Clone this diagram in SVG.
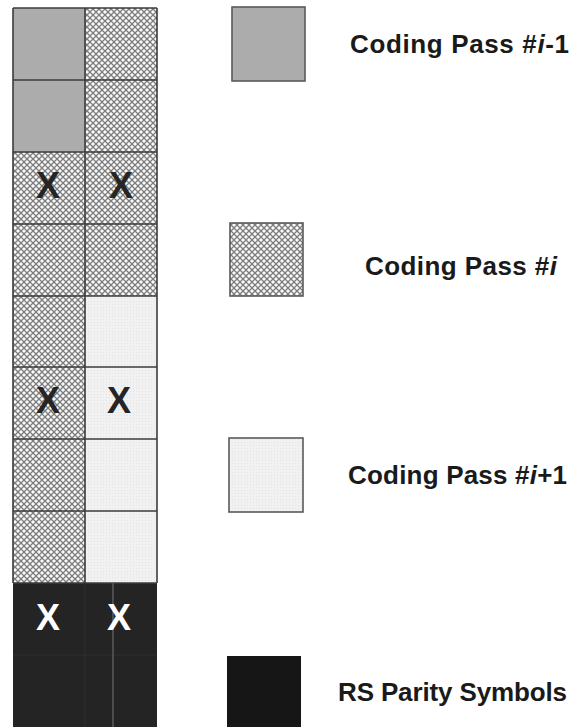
<svg xmlns="http://www.w3.org/2000/svg" width="579" height="727" viewBox="0 0 579 727">
  <defs>
    <!-- diagonal cross-hatch used for coding pass #i -->
    <pattern id="hatch" width="6" height="6" patternUnits="userSpaceOnUse">
      <rect width="6" height="6" fill="#fafafa"/>
      <path d="M-1,-1 L7,7 M7,-1 L-1,7" stroke="#7c7c7c" stroke-width="1.3" fill="none"/>
    </pattern>
    <!-- faint dotted texture for the light cells -->
    <pattern id="dots" width="3" height="3" patternUnits="userSpaceOnUse">
      <rect width="3" height="3" fill="#f1f1f1"/>
      <rect x="1" y="1" width="1" height="1" fill="#e3e3e3"/>
    </pattern>
  </defs>
  <style>
    .prev  { fill: #acacac; }
    .cur   { fill: url(#hatch); }
    .next  { fill: url(#dots); }
    .par   { fill: #242424; }
    .grid  { stroke: #3c3c3c; stroke-width: 1.6; fill: none; }
    .mark  { font-family: "Liberation Sans", Arial, sans-serif; font-weight: bold; font-size: 36px; text-anchor: middle; }
    .dark  { fill: #252525; }
    .light { fill: #ffffff; }
    .lbl   { font-family: "Liberation Sans", Arial, sans-serif; font-weight: bold; font-size: 26px; fill: #1a1a1a; }
    .key   { stroke: #5a5a5a; stroke-width: 1.6; }
  </style>

  <rect width="579" height="727" fill="#ffffff"/>

  <!-- symbol grid: 10 rows x 2 columns -->
  <g id="grid-cells">
    <g id="cell-r1-c1"><rect class="prev" x="13" y="8" width="72" height="72"/></g>
    <g id="cell-r1-c2"><rect class="cur" x="85" y="8" width="72" height="72"/></g>
    <g id="cell-r2-c1"><rect class="prev" x="13" y="80" width="72" height="72"/></g>
    <g id="cell-r2-c2"><rect class="cur" x="85" y="80" width="72" height="72"/></g>
    <g id="cell-r3-c1"><rect class="cur" x="13" y="152" width="72" height="72"/></g>
    <g id="cell-r3-c2"><rect class="cur" x="85" y="152" width="72" height="72"/></g>
    <g id="cell-r4-c1"><rect class="cur" x="13" y="224" width="72" height="72"/></g>
    <g id="cell-r4-c2"><rect class="cur" x="85" y="224" width="72" height="72"/></g>
    <g id="cell-r5-c1"><rect class="cur" x="13" y="296" width="72" height="71"/></g>
    <g id="cell-r5-c2"><rect class="next" x="85" y="296" width="72" height="71"/></g>
    <g id="cell-r6-c1"><rect class="cur" x="13" y="367" width="72" height="72"/></g>
    <g id="cell-r6-c2"><rect class="next" x="85" y="367" width="72" height="72"/></g>
    <g id="cell-r7-c1"><rect class="cur" x="13" y="439" width="72" height="72"/></g>
    <g id="cell-r7-c2"><rect class="next" x="85" y="439" width="72" height="72"/></g>
    <g id="cell-r8-c1"><rect class="cur" x="13" y="511" width="72" height="72"/></g>
    <g id="cell-r8-c2"><rect class="next" x="85" y="511" width="72" height="72"/></g>
    <g id="cell-r9-c1"><rect class="par" x="13" y="583" width="72" height="72"/></g>
    <g id="cell-r9-c2"><rect class="par" x="85" y="583" width="72" height="72"/></g>
    <g id="cell-r10-c1"><rect class="par" x="13" y="655" width="72" height="72"/></g>
    <g id="cell-r10-c2"><rect class="par" x="85" y="655" width="72" height="72"/></g>
  </g>

  <!-- cell borders -->
  <g id="grid-lines">
    <path class="grid" d="M13,8 H157 M13,80 H157 M13,152 H157 M13,224 H157 M13,296 H157 M13,367 H157 M13,439 H157 M13,511 H157 M13,583 H157"/>
    <path class="grid" d="M13,8 V583 M85,8 V583 M157,8 V583"/>
    <path d="M85,583 V727 M13,655 H157" stroke="#2e2e2e" stroke-width="1.2"/>
    <path d="M113,583 V727" stroke="#5a5a5a" stroke-width="1.5"/>
  </g>

  <!-- erased symbols -->
  <g id="marks">
    <text class="mark dark" x="48" y="198">X</text>
    <text class="mark dark" x="121" y="198">X</text>
    <text class="mark dark" x="48" y="413">X</text>
    <text class="mark dark" x="119" y="413">X</text>
    <text class="mark light" x="48" y="630">X</text>
    <text class="mark light" x="119" y="630">X</text>
  </g>

  <!-- legend -->
  <g id="legend-prev">
    <rect class="prev key" x="232" y="7" width="73" height="74"/>
    <text class="lbl" x="350" y="53" textLength="219" lengthAdjust="spacing">Coding Pass #<tspan font-style="italic">i</tspan>-1</text>
  </g>
  <g id="legend-cur">
    <rect class="cur key" x="230" y="223" width="73" height="73"/>
    <text class="lbl" x="365" y="275" textLength="192" lengthAdjust="spacing">Coding Pass #<tspan font-style="italic">i</tspan></text>
  </g>
  <g id="legend-next">
    <rect class="next key" x="229" y="438" width="74" height="74"/>
    <text class="lbl" x="348" y="484" textLength="219" lengthAdjust="spacing">Coding Pass #<tspan font-style="italic">i</tspan>+1</text>
  </g>
  <g id="legend-parity">
    <rect x="227" y="656" width="74" height="71" fill="#161616"/>
    <text class="lbl" x="338" y="701" textLength="229" lengthAdjust="spacing">RS Parity Symbols</text>
  </g>
</svg>
